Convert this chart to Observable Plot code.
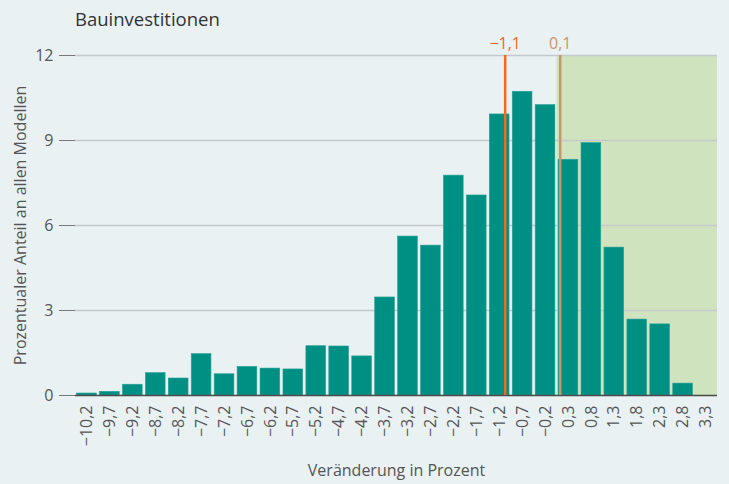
<!DOCTYPE html>
<html>
<head>
<meta charset="utf-8">
<script src="https://cdn.jsdelivr.net/npm/d3@7"></script>
<script src="https://cdn.jsdelivr.net/npm/@observablehq/plot@0.6"></script>
<style>
  html, body { margin: 0; padding: 0; background: #e9f1f3; }
  #wrap { width: 729px; height: 484px; position: relative; font-family: "Open Sans", "Noto Sans", sans-serif; }
  #title { position: absolute; left: 75px; top: 6px; font-size: 18.5px; color: #333; }
  #chart { position: absolute; left: 0; top: 30px; }
</style>
</head>
<body>
<div id="wrap">
  <div id="title">Bauinvestitionen</div>
  <div id="chart"></div>
</div>
<script>
// Categories (percent change, bin centers)
const categories = [-10.2, -9.7, -9.2, -8.7, -8.2, -7.7, -7.2, -6.7, -6.2, -5.7, -5.2, -4.7, -4.2, -3.7, -3.2, -2.7, -2.2, -1.7, -1.2, -0.7, -0.2, 0.3, 0.8, 1.3, 1.8, 2.3, 2.8, 3.3];
// Share of all models (percent)
const shares = [0.07, 0.13, 0.38, 0.79, 0.6, 1.46, 0.75, 1.01, 0.95, 0.92, 1.74, 1.73, 1.38, 3.46, 5.61, 5.29, 7.76, 7.06, 9.92, 10.72, 10.25, 8.32, 8.91, 5.22, 2.68, 2.51, 0.42, 0.0];
const yTicks = [0, 3, 6, 9, 12];
// Marker lines
const markerValues = [-1.08, 0.12];
const markerColors = ["#f26a1f", "#c9966c"];
// Shaded region (positive change)
const shadeRange = [0.05, 3.55];

const loc = d3.formatLocale({decimal: ",", thousands: ".", grouping: [3], currency: ["", "€"], minus: "\u2212"});
const fmt = loc.format(".1f");

const binHalf = 0.215;
const bars = categories.map((c, i) => ({x1: c - binHalf, x2: c + binHalf, y: shares[i]}));
const markers = markerValues.map((v, i) => ({x: v, color: markerColors[i], label: fmt(v)}));

const chart = Plot.plot({
  width: 729,
  height: 454,
  marginTop: 25,
  marginBottom: 89,
  marginLeft: 75,
  marginRight: 12,
  style: {background: "transparent", fontFamily: "'Open Sans', 'Noto Sans', sans-serif", fontSize: "16px", color: "#555"},
  x: {domain: [-10.45, 3.55], label: null},
  y: {domain: [0, 12], label: null},
  marks: [
    Plot.rect([shadeRange], {x1: d => d[0], x2: d => d[1], y1: 0, y2: 12, fill: "#cfe3bf"}),
    Plot.ruleY(yTicks.filter(t => t > 0), {stroke: "#c3c9cc", strokeWidth: 1.5}),
    Plot.axisY({ticks: yTicks, tickSize: 16, tickPadding: 6, stroke: "#777", tickFormat: d => d, fontSize: 16, label: "Prozentualer Anteil an allen Modellen", labelAnchor: "center", labelOffset: 61, labelArrow: "none"}),
    Plot.axisX({ticks: categories, tickSize: 0, tickPadding: 10, tickRotate: -90, tickFormat: fmt, fontSize: 16, label: "Veränderung in Prozent", labelAnchor: "center", labelOffset: 80, labelArrow: "none"}),
    Plot.rectY(bars, {x1: "x1", x2: "x2", y: "y", fill: "#009083", stroke: "#2aa196", strokeWidth: 0.6}),
    Plot.ruleY([0], {stroke: "#4a4a4a", strokeWidth: 1.5}),
    Plot.ruleX(markers, {x: "x", y1: 0, y2: 12, stroke: "color", strokeWidth: 2.5}),
    Plot.text(markers, {x: "x", y: 12, text: "label", fill: "color", dy: -12, fontSize: 16})
  ]
});
document.getElementById("chart").appendChild(chart);
</script>
</body>
</html>
